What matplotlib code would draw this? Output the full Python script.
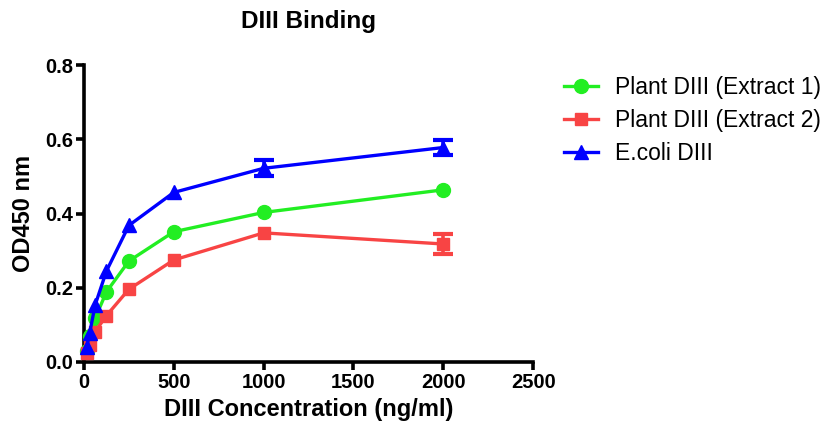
import matplotlib
matplotlib.use("Agg")
import matplotlib.pyplot as plt
import numpy as np

conc = [15.625, 31.25, 62.5, 125, 250, 500, 1000, 2000]
plant1 = [0.030, 0.070, 0.118, 0.189, 0.272, 0.351, 0.403, 0.464]
plant1_err = [0, 0, 0, 0, 0, 0, 0.0, 0.0]
plant2 = [0.024, 0.046, 0.082, 0.125, 0.196, 0.275, 0.348, 0.318]
plant2_err = [0, 0, 0, 0, 0, 0, 0.0, 0.028]
ecoli = [0.040, 0.077, 0.154, 0.245, 0.368, 0.457, 0.522, 0.578]
ecoli_err = [0, 0, 0, 0, 0, 0, 0.022, 0.019]

series_labels = ["Plant DIII (Extract 1)", "Plant DIII (Extract 2)", "E.coli DIII"]
title = "DIII Binding"
xlabel = "DIII Concentration (ng/ml)"
ylabel = "OD450 nm"
xticks = [0, 500, 1000, 1500, 2000, 2500]
yticks = [0.0, 0.2, 0.4, 0.6, 0.8]

plt.rcParams['font.family'] = ['Liberation Sans', 'DejaVu Sans']

fig = plt.figure(figsize=(8.38, 4.34), dpi=100)
ax = fig.add_axes([0.1002, 0.1659, 0.536, 0.684])

styles = [
    (plant1, plant1_err, '#22EE22', 'o', 10),
    (plant2, plant2_err, '#F84444', 's', 9),
    (ecoli, ecoli_err, '#0000FF', '^', 10),
]
handles = []
for (vals, err, col, mk, ms), lab in zip(styles, series_labels):
    h, = ax.plot(conc, vals, color=col, marker=mk, markersize=ms,
                 linewidth=2.4, label=lab, clip_on=False, zorder=3)
    handles.append(h)
    x = np.array(conc); v = np.array(vals); e = np.array(err)
    m = e > 0
    if m.any():
        ax.errorbar(x[m], v[m], yerr=e[m], fmt='none', ecolor=col,
                    elinewidth=2.6, capsize=7.5, capthick=3, zorder=3)

ax.set_xlim(0, 2500)
ax.set_ylim(0, 0.8)
ax.set_xticks(xticks)
ax.set_yticks(yticks)
ax.set_yticklabels([f"{v:.1f}" for v in yticks])

for s in ['top', 'right']:
    ax.spines[s].set_visible(False)
for s in ['left', 'bottom']:
    ax.spines[s].set_linewidth(2.6)
ax.tick_params(axis='both', direction='out', length=6, width=2.6, labelsize=14.5, pad=2)
for lbl in ax.get_xticklabels() + ax.get_yticklabels():
    lbl.set_fontweight('bold')

ax.set_xlabel(xlabel, fontsize=17, fontweight='bold', labelpad=4)
ax.set_ylabel(ylabel, fontsize=17, fontweight='bold', labelpad=7)
ax.set_title(title, fontsize=17.5, fontweight='bold', pad=27)

fig.legend(handles, series_labels, loc='upper left', bbox_to_anchor=(0.662, 0.845),
           frameon=False, fontsize=16.5, handlelength=1.5, handletextpad=0.75,
           labelspacing=0.42, borderaxespad=0)

fig.savefig("out.png", dpi=100)
